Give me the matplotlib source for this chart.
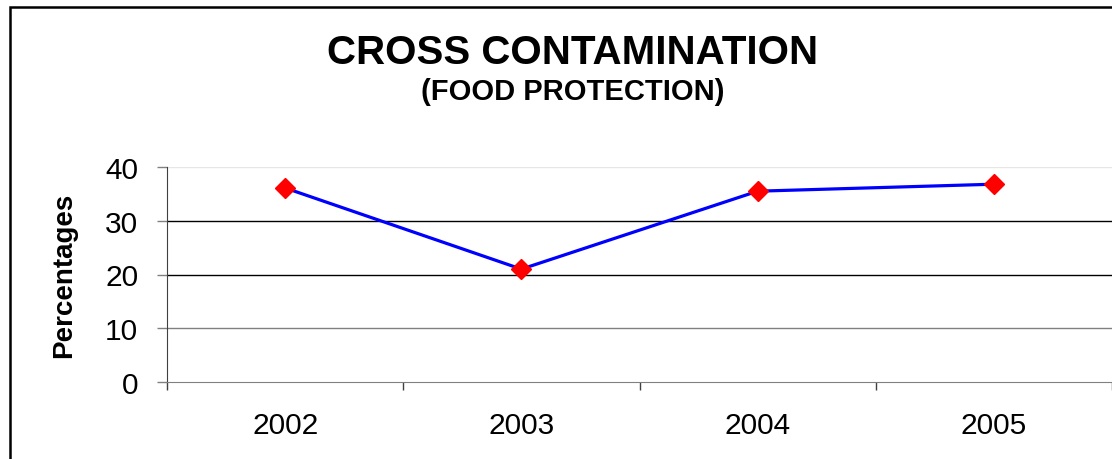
import matplotlib
matplotlib.use("Agg")
from matplotlib import pyplot as plt
from matplotlib.patches import Rectangle
import numpy as np

plt.rcParams['font.family'] = ['Liberation Sans', 'DejaVu Sans']

# --- data ---
years = ["2002", "2003", "2004", "2005"]
percent = [36.1, 21.0, 35.5, 36.8]
y_ticks = [0, 10, 20, 30, 40]
grid_colors = {10: "#808080", 20: "black", 30: "black", 40: "#e6e6e6"}

fig = plt.figure(figsize=(11.12, 4.6), dpi=100)
fig.patch.set_facecolor("white")

# outer frame (left and top visible)
fig.patches.append(Rectangle((10 / 1112, -0.1), 1.2, 1.1 - 7.5 / 460,
                             transform=fig.transFigure, fill=False,
                             edgecolor="black", linewidth=1.8))

ax = fig.add_axes([167 / 1112, 77 / 460, 1 - 167 / 1112, 215 / 460])
x = np.arange(len(years))

for lvl, c in grid_colors.items():
    ax.axhline(lvl, color=c, linewidth=1.0, zorder=1)

ax.plot(x, percent, '-', color="#0000ff", linewidth=2.3, zorder=3)
ax.plot(x, percent, 'D', color="#ff0000", markersize=10.5, zorder=4)

ax.set_xlim(-0.5, 3.5)
ax.set_ylim(0, 40)
ax.set_yticks(y_ticks)
ax.set_yticklabels([str(v) for v in y_ticks], fontsize=21.5)
ax.set_xticks(x)
ax.set_xticklabels(years, fontsize=21.5)
ax.set_xticks(np.arange(-0.5, 4, 1), minor=True)
ax.tick_params(axis='x', which='major', length=0, pad=21)
ax.tick_params(axis='x', which='minor', length=6, width=1, color="#404040")
ax.tick_params(axis='y', length=7.2, width=1, color="#808080", pad=13.5)

for s in ["top", "right"]:
    ax.spines[s].set_visible(False)
ax.spines["left"].set_color("#404040")
ax.spines["bottom"].set_color("#808080")

ax.set_ylabel("Percentages", fontsize=20, fontweight="bold", labelpad=20)

fig.text(0.515, 1 - 64.5 / 460, "CROSS CONTAMINATION", ha="center", va="baseline",
         fontsize=29, fontweight="bold")
fig.text(0.515, 1 - 100 / 460, "(FOOD PROTECTION)", ha="center", va="baseline",
         fontsize=21, fontweight="bold")

fig.savefig("out.png", dpi=100)
